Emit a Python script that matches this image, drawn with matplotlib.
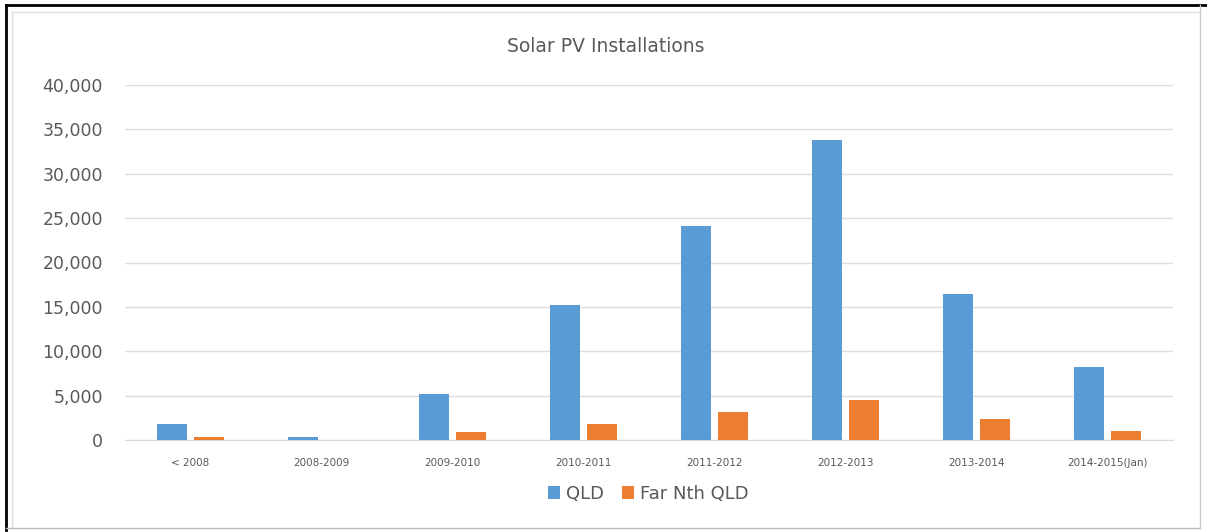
import matplotlib
matplotlib.use('Agg')
import matplotlib.pyplot as plt
from matplotlib.lines import Line2D
import numpy as np

categories = ['< 2008', '2008-2009', '2009-2010', '2010-2011', '2011-2012',
              '2012-2013', '2013-2014', '2014-2015(Jan)']
qld = [1800, 300, 5200, 15200, 24100, 33800, 16450, 8250]
far_nth_qld = [300, 30, 900, 1800, 3150, 4500, 2400, 1000]

blue = '#5B9BD5'
orange = '#ED7D31'
grey_text = '#595959'

fig = plt.figure(figsize=(12.07, 5.32), dpi=100)
ax = fig.add_axes([125 / 1207, 1 - 440 / 532, 1048 / 1207, 355 / 532])

x = np.arange(len(categories))
w = 0.225
off = 0.14
ax.bar(x - off, qld, width=w, color=blue, label='QLD', zorder=3)
ax.bar(x + off, far_nth_qld, width=w, color=orange, label='Far Nth QLD', zorder=3)

ax.set_xlim(-0.5, len(categories) - 0.5)
ax.set_ylim(0, 40000)
ax.set_yticks(range(0, 40001, 5000))
ax.set_yticklabels(['{:,}'.format(v) for v in range(0, 40001, 5000)])
ax.set_xticks(x)
ax.set_xticklabels(categories)
ax.grid(axis='y', color='#DDDDDD', linewidth=1, zorder=0)
for s in ['top', 'right', 'left']:
    ax.spines[s].set_visible(False)
ax.spines['bottom'].set_color('#D9D9D9')
ax.tick_params(axis='both', length=0)
ax.tick_params(axis='y', labelsize=12.5, labelcolor=grey_text, pad=16)
ax.tick_params(axis='x', labelsize=7.5, labelcolor=grey_text, pad=13)

fig.text(606 / 1207, 1 - 46 / 532, 'Solar PV Installations', ha='center', va='center',
         fontsize=13.5, color=grey_text)

fig.legend(loc='center', bbox_to_anchor=(648 / 1207, 1 - 494 / 532), ncol=2,
           frameon=False, fontsize=13, labelcolor=grey_text, handlelength=0.7,
           handleheight=0.7, handletextpad=0.3, columnspacing=1.0)

# chart frame
fig.add_artist(Line2D([6 / 1207, 6 / 1207], [1 - 5 / 532, 1 - 530 / 532], color='black', lw=2))
fig.add_artist(Line2D([6 / 1207, 1], [1 - 5 / 532, 1 - 5 / 532], color='black', lw=2))
fig.add_artist(Line2D([12 / 1207, 12 / 1207], [1 - 12 / 532, 1 - 528 / 532], color='#E0E0E0', lw=1))
fig.add_artist(Line2D([12 / 1207, 1200 / 1207], [1 - 12 / 532, 1 - 12 / 532], color='#E0E0E0', lw=1))
fig.add_artist(Line2D([6 / 1207, 1200 / 1207], [1 - 528 / 532, 1 - 528 / 532], color='#BBBBBB', lw=1))
fig.add_artist(Line2D([1200 / 1207, 1200 / 1207], [1 - 5 / 532, 1 - 528 / 532], color='#CCCCCC', lw=1))

fig.savefig('out.png', dpi=100)
